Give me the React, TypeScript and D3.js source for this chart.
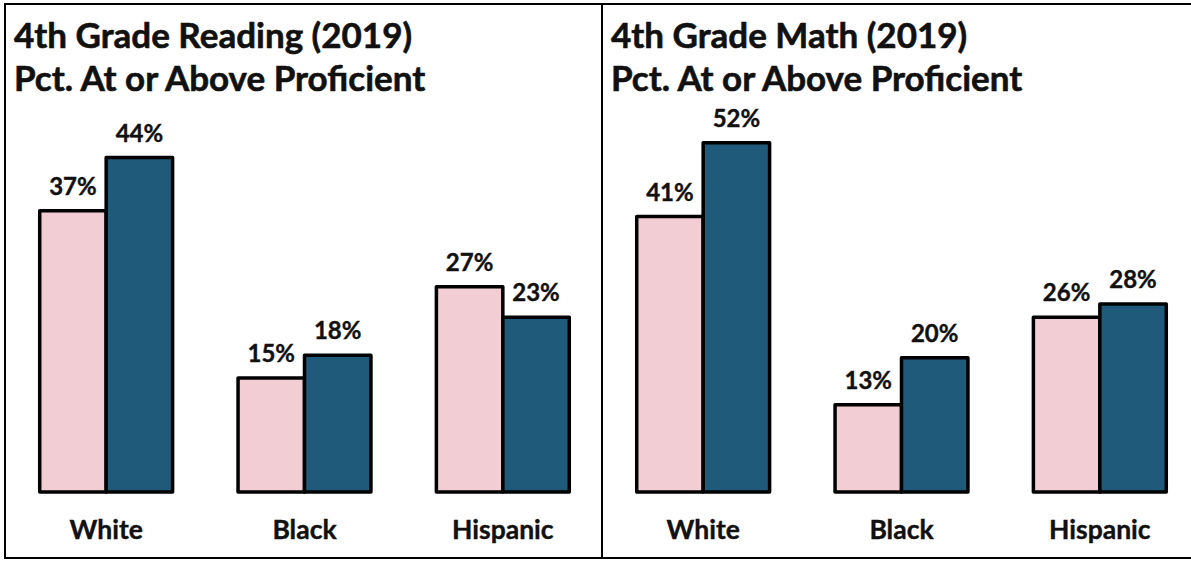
import React, { useEffect, useRef } from 'react';
import * as d3 from 'd3';

// Chart data
const categories = ['White', 'Black', 'Hispanic'];
const seriesKeys = ['first', 'second'];

const readingFirst = [0.37, 0.15, 0.27];
const readingSecond = [0.44, 0.18, 0.23];
const mathFirst = [0.41, 0.13, 0.26];
const mathSecond = [0.52, 0.20, 0.28];

const readingTitle = ['4th Grade Reading (2019)', 'Pct. At or Above Proficient'];
const mathTitle = ['4th Grade Math (2019)', 'Pct. At or Above Proficient'];

const seriesColors = ['#F2CDD3', '#1F5A7B'];

const WIDTH = 1191;
const HEIGHT = 563;
const FONT = 'Lato, "Open Sans", sans-serif';

interface PanelConfig {
  x0: number;
  x1: number;
  yMax: number;
  yTop: number;
  title: string[];
  first: number[];
  second: number[];
}

export default function App() {
  const svgRef = useRef<SVGSVGElement>(null);

  useEffect(() => {
    if (!svgRef.current) return;
    const svg = d3.select(svgRef.current);
    svg.selectAll('*').remove();

    svg.append('rect')
      .attr('width', WIDTH)
      .attr('height', HEIGHT)
      .attr('fill', '#fff');

    const baseline = 492;

    const panels: PanelConfig[] = [
      { x0: 5, x1: 602, yMax: 0.5, yTop: 112, title: readingTitle, first: readingFirst, second: readingSecond },
      { x0: 602, x1: 1199, yMax: 0.6, yTop: 89, title: mathTitle, first: mathFirst, second: mathSecond },
    ];

    panels.forEach(p => {
      const g = svg.append('g');

      // panel frame
      g.append('rect')
        .attr('x', p.x0)
        .attr('y', 4)
        .attr('width', p.x1 - p.x0)
        .attr('height', 554)
        .attr('fill', 'none')
        .attr('stroke', '#000')
        .attr('stroke-width', 2);

      // title
      p.title.forEach((line, i) => {
        g.append('text')
          .attr('x', p.x0 + 9)
          .attr('y', 48 + i * 43)
          .attr('font-family', FONT)
          .attr('font-weight', 'bold')
          .attr('font-size', 35)
          .attr('fill', '#111')
          .attr('stroke', '#111')
          .attr('stroke-width', 0.6)
          .text(line);
      });

      const x = d3.scaleBand<string>()
        .domain(categories)
        .range([p.x0 + 2, p.x1])
        .paddingInner(0.33)
        .paddingOuter(0.165);

      const xInner = d3.scaleBand<string>()
        .domain(seriesKeys)
        .range([0, x.bandwidth()]);

      const y = d3.scaleLinear()
        .domain([0, p.yMax])
        .range([baseline, p.yTop]);

      const flat = categories.flatMap((c, i) => [
        { cat: c, key: seriesKeys[0], value: p.first[i], color: seriesColors[0] },
        { cat: c, key: seriesKeys[1], value: p.second[i], color: seriesColors[1] },
      ]);

      g.selectAll('.bar')
        .data(flat)
        .enter()
        .append('rect')
        .attr('class', 'bar')
        .attr('x', d => (x(d.cat) || 0) + (xInner(d.key) || 0))
        .attr('y', d => y(d.value))
        .attr('width', xInner.bandwidth())
        .attr('height', d => baseline - y(d.value))
        .attr('fill', d => d.color)
        .attr('stroke', '#000')
        .attr('stroke-width', 3.5)
        .attr('stroke-linejoin', 'round');

      g.selectAll('.val')
        .data(flat)
        .enter()
        .append('text')
        .attr('class', 'val')
        .attr('x', d => (x(d.cat) || 0) + (xInner(d.key) || 0) + xInner.bandwidth() / 2)
        .attr('y', d => y(d.value) - 16)
        .attr('text-anchor', 'middle')
        .attr('font-family', FONT)
        .attr('font-weight', 'bold')
        .attr('font-size', 24)
        .attr('fill', '#111')
        .attr('stroke', '#111')
        .attr('stroke-width', 0.4)
        .text(d => d3.format('.0%')(d.value));

      g.selectAll('.cat')
        .data(categories)
        .enter()
        .append('text')
        .attr('class', 'cat')
        .attr('x', d => (x(d) || 0) + x.bandwidth() / 2)
        .attr('y', 539)
        .attr('text-anchor', 'middle')
        .attr('font-family', FONT)
        .attr('font-weight', 'bold')
        .attr('font-size', 26.5)
        .attr('fill', '#111')
        .attr('stroke', '#111')
        .attr('stroke-width', 0.4)
        .text(d => d);
    });
  }, []);

  return (
    <svg
      ref={svgRef}
      width={WIDTH}
      height={HEIGHT}
      style={{ position: 'absolute', left: 0, top: 0, display: 'block' }}
    />
  );
}
